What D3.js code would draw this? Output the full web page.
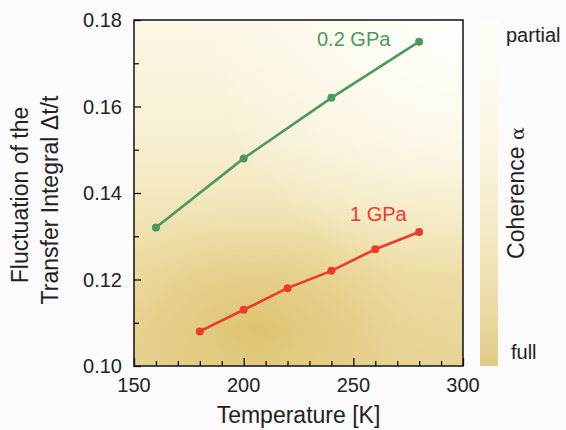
<!DOCTYPE html>
<html>
<head>
<meta charset="utf-8">
<script src="https://cdn.jsdelivr.net/npm/d3@7"></script>
<style>
  body { margin: 0; background: #fbfbfd; }
  text { font-family: "Liberation Sans", Arial, sans-serif; fill: #222; }
</style>
</head>
<body>
<div id="chart"></div>
<script>
// data
const temps02 = [160, 200, 240, 280];
const fluct02 = [0.132, 0.148, 0.162, 0.175];
const temps1 = [180, 200, 220, 240, 260, 280];
const fluct1 = [0.108, 0.113, 0.118, 0.122, 0.127, 0.131];
const xTicks = [150, 200, 250, 300];
const yTicks = [0.10, 0.12, 0.14, 0.16, 0.18];

const width = 566, height = 430;
const pLeft = 134, pRight = 463, pTop = 20, pBottom = 366;

const svg = d3.select("#chart").append("svg")
    .attr("width", width)
    .attr("height", height);

const x = d3.scaleLinear().domain([150, 300]).range([pLeft, pRight]);
const y = d3.scaleLinear().domain([0.10, 0.18]).range([pBottom, pTop]);

const defs = svg.append("defs");

// vertical base shading
const lin = defs.append("linearGradient").attr("id", "bgLin")
    .attr("x1", 0).attr("y1", 0).attr("x2", 0).attr("y2", 1);
[[0, "#fbf7e6"], [0.35, "#f7efd2"], [0.65, "#efe0ab"], [1, "#e6d290"]].forEach(s =>
    lin.append("stop").attr("offset", s[0]).attr("stop-color", s[1]));

// dark blob low in the middle
const rad = defs.append("radialGradient").attr("id", "bgRad")
    .attr("gradientUnits", "userSpaceOnUse")
    .attr("cx", 255).attr("cy", 330).attr("r", 170)
    .attr("gradientTransform", "translate(255,330) scale(1.3,0.85) translate(-255,-330)");
[[0, "#dbc06a", 0.85], [0.45, "#e2ca80", 0.6], [1, "#efe2b4", 0]].forEach(s =>
    rad.append("stop").attr("offset", s[0]).attr("stop-color", s[1]).attr("stop-opacity", s[2]));

// light corner top right
const rad2 = defs.append("radialGradient").attr("id", "bgRad2")
    .attr("gradientUnits", "userSpaceOnUse")
    .attr("cx", 460).attr("cy", 20).attr("r", 260);
[[0, "#ffffff", 0.95], [0.5, "#fffdf6", 0.6], [1, "#fffdf6", 0]].forEach(s =>
    rad2.append("stop").attr("offset", s[0]).attr("stop-color", s[1]).attr("stop-opacity", s[2]));

const bar = defs.append("linearGradient").attr("id", "cbar")
    .attr("x1", 0).attr("y1", 0).attr("x2", 0).attr("y2", 1);
[[0, "#fefdf9"], [0.35, "#fbf6e2"], [0.65, "#f3e7bd"], [0.85, "#ead9a0"], [1, "#e2cc85"]].forEach(s =>
    bar.append("stop").attr("offset", s[0]).attr("stop-color", s[1]));

["url(#bgLin)", "url(#bgRad)", "url(#bgRad2)"].forEach(f =>
    svg.append("rect").attr("x", pLeft).attr("y", pTop)
        .attr("width", pRight - pLeft).attr("height", pBottom - pTop)
        .attr("fill", f));

// axes with inward ticks
const xAxis = svg.append("g").attr("transform", `translate(0,${pBottom})`)
    .call(d3.axisBottom(x).tickValues(d3.range(150, 301, 10)).tickSize(-5).tickFormat(""));
xAxis.selectAll(".tick line").filter(d => d % 50 === 0).attr("y2", -8);
const yAxis = svg.append("g").attr("transform", `translate(${pLeft},0)`)
    .call(d3.axisLeft(y).tickValues(d3.range(0.10, 0.1801, 0.01)).tickSize(-5).tickFormat(""));
yAxis.selectAll(".tick line").filter((d, i) => i % 2 === 0).attr("x2", 7);
svg.selectAll(".domain").remove();
svg.selectAll(".tick line").attr("stroke", "#111").attr("stroke-width", 1.3);

svg.append("rect").attr("x", pLeft).attr("y", pTop)
    .attr("width", pRight - pLeft).attr("height", pBottom - pTop)
    .attr("fill", "none").attr("stroke", "#111").attr("stroke-width", 1.5);

svg.selectAll(".xlab").data(xTicks).enter().append("text")
    .attr("x", d => x(d)).attr("y", 392)
    .attr("text-anchor", "middle").attr("font-size", 20)
    .text(d => d);
svg.selectAll(".ylab").data(yTicks).enter().append("text")
    .attr("x", pLeft - 12).attr("y", d => y(d) + 7)
    .attr("text-anchor", "end").attr("font-size", 20)
    .text(d => d.toFixed(2));

// series
const line = d3.line().x(d => x(d[0])).y(d => y(d[1]));
function series(ts, vs, color) {
    const pts = ts.map((t, i) => [t, vs[i]]);
    svg.append("path").datum(pts).attr("d", line)
        .attr("fill", "none").attr("stroke", color).attr("stroke-width", 2.6);
    svg.selectAll(null).data(pts).enter().append("circle")
        .attr("cx", d => x(d[0])).attr("cy", d => y(d[1])).attr("r", 4)
        .attr("fill", color);
}
series(temps02, fluct02, "#4b9960");
series(temps1, fluct1, "#ef3a2b");

svg.append("text").attr("x", 317).attr("y", 46).attr("font-size", 20)
    .style("fill", "#4b9960").text("0.2 GPa");
svg.append("text").attr("x", 350).attr("y", 221).attr("font-size", 20)
    .style("fill", "#ef3a2b").text("1 GPa");

// axis titles
svg.append("text").attr("x", (pLeft + pRight) / 2).attr("y", 423)
    .attr("text-anchor", "middle").attr("font-size", 23)
    .text("Temperature [K]");
svg.append("text").attr("transform", "translate(28,195) rotate(-90)")
    .attr("text-anchor", "middle").attr("font-size", 23)
    .text("Fluctuation of the");
svg.append("text").attr("transform", "translate(58,200) rotate(-90)")
    .attr("text-anchor", "middle").attr("font-size", 23)
    .text("Transfer Integral \u0394t/t");

// colour bar
svg.append("rect").attr("x", 480).attr("y", pTop)
    .attr("width", 18).attr("height", pBottom - pTop)
    .attr("fill", "url(#cbar)");
svg.append("text").attr("x", 506).attr("y", 42).attr("font-size", 20).text("partial");
svg.append("text").attr("x", 511).attr("y", 359).attr("font-size", 20).text("full");
const coh = svg.append("text").attr("transform", "translate(524,193) rotate(-90)")
    .attr("text-anchor", "middle").attr("font-size", 23);
coh.append("tspan").text("Coherence ");
coh.append("tspan").attr("font-size", 19).style("font-family", "DejaVu Serif, serif").text("\u03b1");
</script>
</body>
</html>
